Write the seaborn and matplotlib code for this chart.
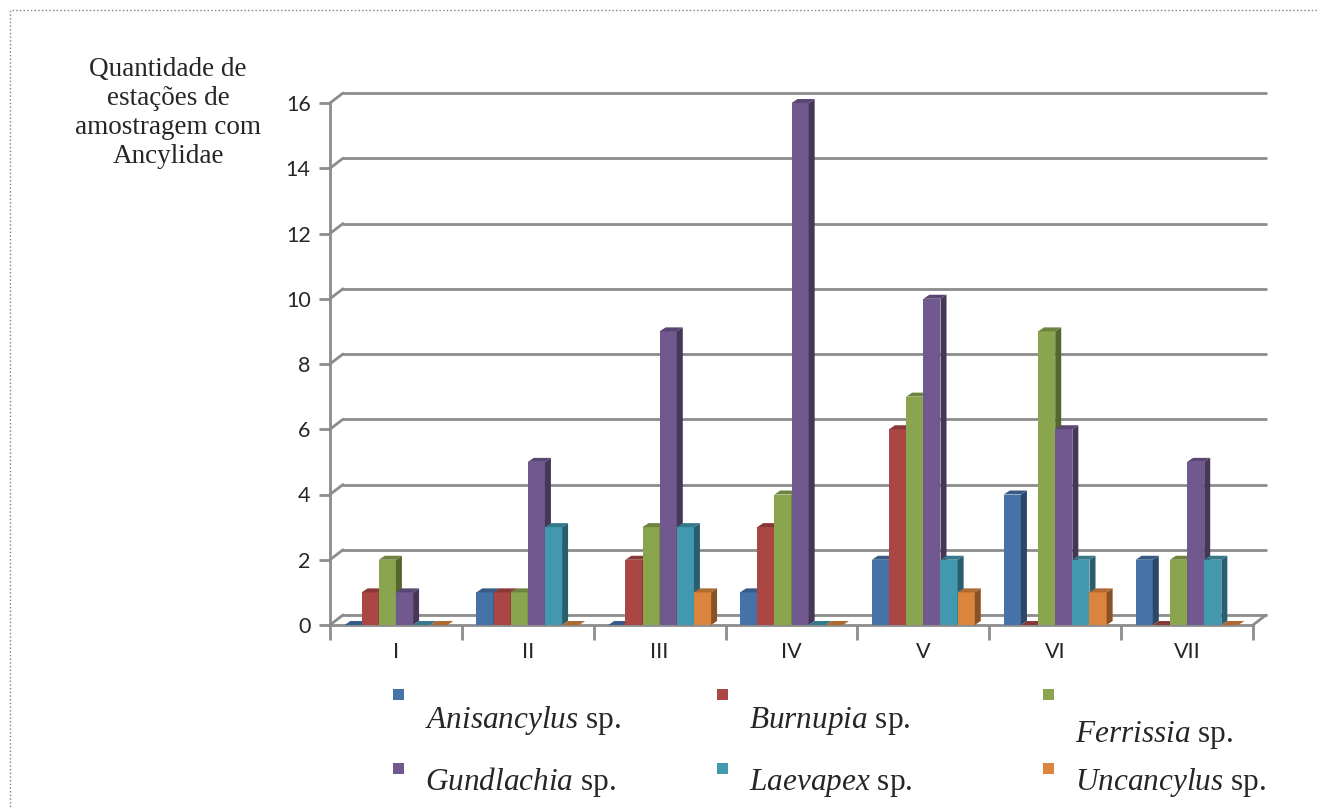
import numpy as np
import pandas as pd
import matplotlib
matplotlib.use('Agg')
import matplotlib.pyplot as plt
import matplotlib.transforms as mtransforms
from matplotlib.patches import Polygon, Rectangle
from matplotlib.colors import to_rgb
import seaborn as sns

# dados
grupos = ['I', 'II', 'III', 'IV', 'V', 'VI', 'VII']
especies = ['Anisancylus', 'Burnupia', 'Ferrissia', 'Gundlachia', 'Laevapex', 'Uncancylus']
anisancylus = [0, 1, 0, 1, 2, 4, 2]
burnupia = [1, 1, 2, 3, 6, 0, 0]
ferrissia = [2, 1, 3, 4, 7, 9, 2]
gundlachia = [1, 5, 9, 16, 10, 6, 5]
laevapex = [0, 3, 3, 0, 2, 2, 2]
uncancylus = [0, 0, 1, 0, 1, 1, 0]
cores = ['#4572A7', '#AA4643', '#89A54E', '#71588F', '#4198AF', '#DB843D']
yticks = [0, 2, 4, 6, 8, 10, 12, 14, 16]

valores = [anisancylus, burnupia, ferrissia, gundlachia, laevapex, uncancylus]
linhas = []
for esp, vals in zip(especies, valores):
    for g, v in zip(grupos, vals):
        linhas.append({'grupo': g, 'especie': esp, 'valor': v})
df = pd.DataFrame(linhas)

sns.set_style('white')
plt.rcParams['mathtext.fontset'] = 'custom'
plt.rcParams['mathtext.rm'] = 'Liberation Serif'
plt.rcParams['mathtext.it'] = 'Liberation Serif:italic'

W, H = 1319, 809
fig = plt.figure(figsize=(W / 100, H / 100), dpi=100)
ax = fig.add_axes([330 / W, 1 - 625 / H, 923 / W, 522 / H])

sns.barplot(data=df, x='grupo', y='valor', hue='especie', palette=cores,
            width=0.78, saturation=1, errorbar=None, legend=False, ax=ax)
ax.set_xlim(-0.5, 6.5)
ax.set_ylim(0, 16)

# efeito 3D nas barras (lado e topo)
px_x = 923 / 7
px_y = 522 / 16
dx, dy = 6 / px_x, 4 / px_y
barras = sorted(ax.patches, key=lambda p: p.get_x())
for i, p in enumerate(barras):
    x, w, h = p.get_x(), p.get_width(), p.get_height()
    c = np.array(to_rgb(p.get_facecolor()))
    z = 3 + i * 0.01
    p.set_edgecolor('none')
    p.set_zorder(z)
    lado = Polygon([(x + w, 0), (x + w + dx, dy), (x + w + dx, h + dy), (x + w, h)],
                   closed=True, fc=c * 0.62, ec='none', zorder=z, clip_on=False)
    topo = Polygon([(x, h), (x + dx, h + dy), (x + w + dx, h + dy), (x + w, h)],
                   closed=True, fc=c * 0.8, ec='none', zorder=z, clip_on=False)
    ax.add_patch(lado)
    ax.add_patch(topo)

# grade na parede do fundo
cinza = '#8c8c8c'
off = mtransforms.ScaledTranslation(13 / 100, 10 / 100, fig.dpi_scale_trans)
tr_fundo = ax.transData + off
for t in yticks:
    ax.plot([-0.5, 6.5], [t, t], color=cinza, lw=2, transform=tr_fundo,
            clip_on=False, zorder=1)
    p0 = ax.transData.transform((-0.5, t))
    p1 = tr_fundo.transform((-0.5, t))
    fig.add_artist(plt.Line2D([p0[0] / W, p1[0] / W], [p0[1] / H, p1[1] / H],
                              color=cinza, lw=2, zorder=1))
p0 = ax.transData.transform((6.5, 0))
p1 = tr_fundo.transform((6.5, 0))
fig.add_artist(plt.Line2D([p0[0] / W, p1[0] / W], [p0[1] / H, p1[1] / H],
                          color=cinza, lw=2, zorder=1))

# eixos
sns.despine(ax=ax, top=True, right=True)
for s in ['left', 'bottom']:
    ax.spines[s].set_color(cinza)
    ax.spines[s].set_linewidth(2)
ax.set_yticks(yticks)
ax.set_xticks(range(len(grupos)))
ax.set_xticklabels(grupos)
ax.set_xticks(np.arange(-0.5, 7, 1), minor=True)
ax.tick_params(axis='y', length=8, width=2, color=cinza, labelsize=15.5, pad=6, left=True)
ax.tick_params(axis='x', which='major', length=0, labelsize=15.5, pad=12)
ax.tick_params(axis='x', which='minor', length=11, width=2, color=cinza, bottom=True)
for lab in ax.get_xticklabels() + ax.get_yticklabels():
    lab.set_family('Lato')
ax.set_xlabel('')
ax.set_ylabel('')

# título do eixo y
fig.text(168 / W, 1 - 113 / H, 'Quantidade de\nestações de\namostragem com\nAncylidae',
         ha='center', va='center', fontsize=19.5, family='Liberation Serif',
         linespacing=1.2)

# legenda
pos_x = [393, 717, 1043]
pos_y = [689, 763]
base_y = [[728, 728, 742], [790, 790, 790]]
for k, (esp, cor) in enumerate(zip(especies, cores)):
    r, c = divmod(k, 3)
    fig.add_artist(Rectangle((pos_x[c] / W, 1 - (pos_y[r] + 11) / H), 11 / W, 11 / H,
                             transform=fig.transFigure, fc=cor, ec='none'))
    fig.text((pos_x[c] + 32) / W, 1 - base_y[r][c] / H, r'$\mathit{' + esp + '}$ sp.',
             ha='left', va='baseline', fontsize=22.5, family='Liberation Serif')

# borda pontilhada
fig.add_artist(Rectangle((10 / W, -0.01), 1.1, 1 - 10 / H + 0.01,
                         transform=fig.transFigure, fill=False, ls=':',
                         ec='#7f7f7f', lw=1))

fig.savefig('out.png', dpi=100)
